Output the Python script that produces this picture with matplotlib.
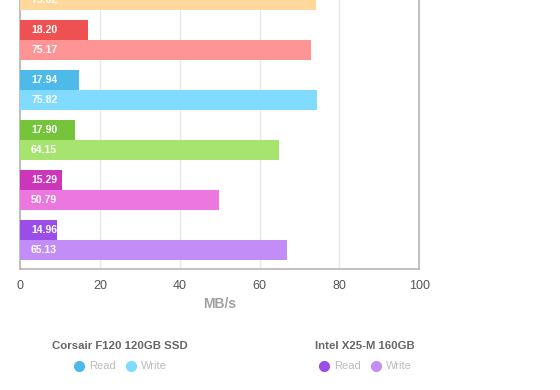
import numpy as np
import matplotlib
matplotlib.use("Agg")
import matplotlib.pyplot as plt
from matplotlib.lines import Line2D

plt.rcParams['font.family'] = ['Liberation Sans', 'DejaVu Sans']

# Data (groups top to bottom; top group is clipped by the figure edge)
drives = ["(clipped)", "Drive B", "Corsair F120 120GB SSD", "Drive D", "Drive E", "Intel X25-M 160GB"]
read_bar = [np.nan, 17.0, 14.75, 13.75, 10.5, 9.2]        # drawn bar lengths (MB/s)
write_bar = [74.25, 73.0, 74.5, 64.75, 49.9, 66.9]
read_labels = ["", "18.20", "17.94", "17.90", "15.29", "14.96"]
write_labels = ["75.62", "75.17", "75.82", "64.15", "50.79", "65.13"]
read_colors = ["#F7B44A", "#EE5151", "#4DBAEA", "#76C43B", "#CB36BA", "#9B4DE7"]
write_colors = ["#FFD89B", "#FF9494", "#80DBFF", "#A6E36F", "#EB77DF", "#C28DF7"]
xticks = [0, 20, 40, 60, 80, 100]
legend_items = [("Corsair F120 120GB SSD", 2), ("Intel X25-M 160GB", 5)]

fig = plt.figure(figsize=(5.6, 3.9), dpi=100)
W, H = 560, 390
ax = fig.add_axes([20 / W, 1 - 269.3 / H, (419.3 - 20) / W, 269.3 / H])

g = np.arange(len(drives))
h = 0.4
ax.barh(g - 0.4, read_bar, height=h, color=read_colors, zorder=3)
ax.barh(g, write_bar, height=h, color=write_colors, zorder=3)

for i in g:
    if read_labels[i]:
        ax.annotate(read_labels[i], xy=(0, i - 0.4), xytext=(8, 0), textcoords="offset points",
                    ha="left", va="center", color="white", fontsize=7.5, fontweight="bold", zorder=4)
    ax.annotate(write_labels[i], xy=(0, i), xytext=(8, 0), textcoords="offset points",
                ha="left", va="center", color="white", fontsize=7.5, fontweight="bold", zorder=4)

ax.set_xlim(0, 100)
ax.set_ylim(269.3 / 50, 0)
ax.set_xticks(xticks)
ax.set_yticks([])
ax.tick_params(axis="x", length=0, pad=8, labelsize=9, labelcolor="#555555")
ax.grid(axis="x", color="#E8E8E8", linewidth=1, zorder=0)
for s in ["left", "bottom", "right"]:
    ax.spines[s].set_color("#B5B5B5")
    ax.spines[s].set_linewidth(1.2)
ax.spines["top"].set_visible(False)
ax.set_xlabel("MB/s", fontsize=10, fontweight="bold", color="#A0A0A0", labelpad=3)

# Custom legend
centers = [120, 365]
for (name, idx), cx in zip(legend_items, centers):
    fig.text(cx / W, 1 - 346 / H, name, ha="center", va="center", fontsize=8.2,
             fontweight="bold", color="#666666")
    for dx, col, lab in [(-41, read_colors[idx], "Read"), (11, write_colors[idx], "Write")]:
        fig.add_artist(Line2D([(cx + dx) / W], [1 - 366 / H], marker="o", markersize=7,
                              color=col, linestyle="none", transform=fig.transFigure))
        fig.text((cx + dx + 10) / W, 1 - 366 / H, lab, ha="left", va="center",
                 fontsize=8, color="#BBBBBB")

fig.savefig("out.png", dpi=100)
